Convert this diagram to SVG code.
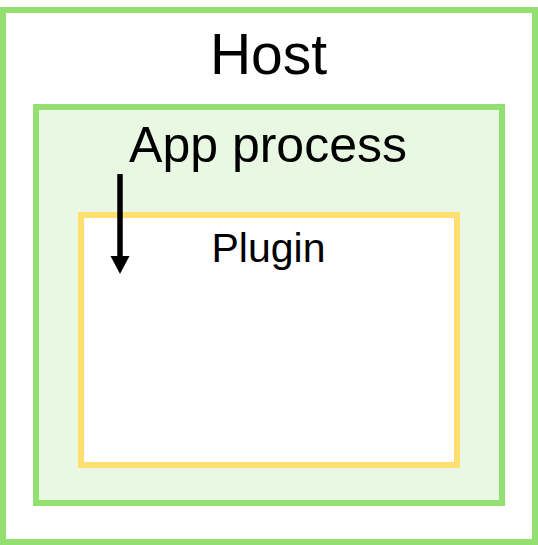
<svg xmlns="http://www.w3.org/2000/svg" width="538" height="545" viewBox="0 0 538 545">
<defs>
<style>
.lbl{font-family:"Liberation Sans",Arial,sans-serif;fill:#000;text-anchor:middle}
</style>
</defs>
<rect width="538" height="545" fill="#fff"/>
<g id="host">
<rect x="3" y="10" width="532" height="532" fill="#fff" stroke="#93e070" stroke-width="6"/>
<text class="lbl" x="268.5" y="73.5" font-size="57">Host</text>
</g>
<g id="app">
<rect x="36" y="107" width="466" height="396" fill="#e9f8e2" stroke="#93e070" stroke-width="6"/>
<text class="lbl" x="268" y="162" font-size="50">App process</text>
</g>
<g id="plugin">
<rect x="81" y="215" width="376" height="250" fill="#fff" stroke="#ffdf70" stroke-width="6"/>
<text class="lbl" x="268.5" y="262" font-size="41">Plugin</text>
</g>
<g id="connectors">
<line x1="120" y1="174" x2="120" y2="258" stroke="#000" stroke-width="5.5"/>
<path d="M110.5,256 L129.5,256 L120,274 Z" fill="#000"/>
</g>
</svg>
